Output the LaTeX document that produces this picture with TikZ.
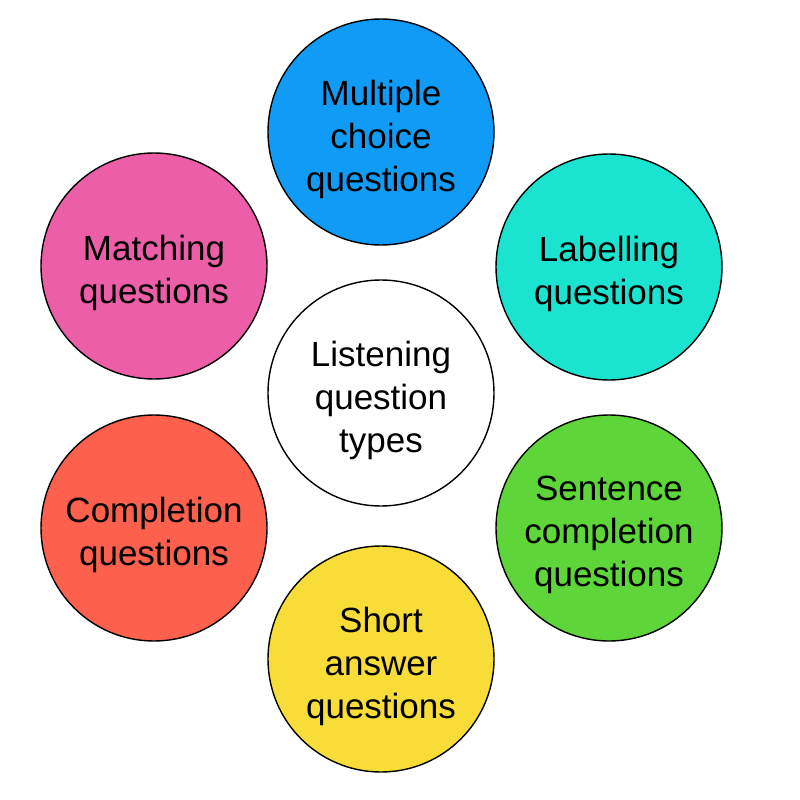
\documentclass[tikz,border=0pt]{standalone}
\usepackage{fontspec}
\setmainfont{Liberation Sans}
\definecolor{cblue}{RGB}{16,156,246}
\definecolor{ccyan}{RGB}{26,228,208}
\definecolor{cpink}{RGB}{236,95,168}
\definecolor{cgreen}{RGB}{94,214,58}
\definecolor{cred}{RGB}{253,96,76}
\definecolor{cyellow}{RGB}{248,221,56}
\tikzset{
  bubble/.style={circle, draw=black, line width=1.4pt, minimum size=226pt, inner sep=0pt},
  btext/.style={align=center, font=\fontsize{35}{43}\selectfont, text=black, yshift=-7pt, inner sep=0pt}
}
\begin{document}
\begin{tikzpicture}[x=1pt,y=-1pt]
\useasboundingbox (0,0) rectangle (800,800);
\fill[white] (0,0) rectangle (800,800);
\node[bubble, fill=white, label={[btext, name=centert]center:Listening\\question\\types}] (center) at (381,393) {};
\node[bubble, fill=cblue, label={[btext, name=mct]center:Multiple\\choice\\questions}] (mc) at (381,132) {};
\node[bubble, fill=ccyan, label={[btext, name=labt]center:Labelling\\questions}] (lab) at (609,267) {};
\node[bubble, fill=cgreen, label={[btext, name=sent]center:Sentence\\completion\\questions}] (sen) at (609,528) {};
\node[bubble, fill=cyellow, label={[btext, name=sat]center:Short\\answer\\questions}] (sa) at (381,659) {};
\node[bubble, fill=cred, label={[btext, name=compt]center:Completion\\questions}] (comp) at (154,528) {};
\node[bubble, fill=cpink, label={[btext, name=matt]center:Matching\\questions}] (mat) at (154,266) {};
\end{tikzpicture}
\end{document}
